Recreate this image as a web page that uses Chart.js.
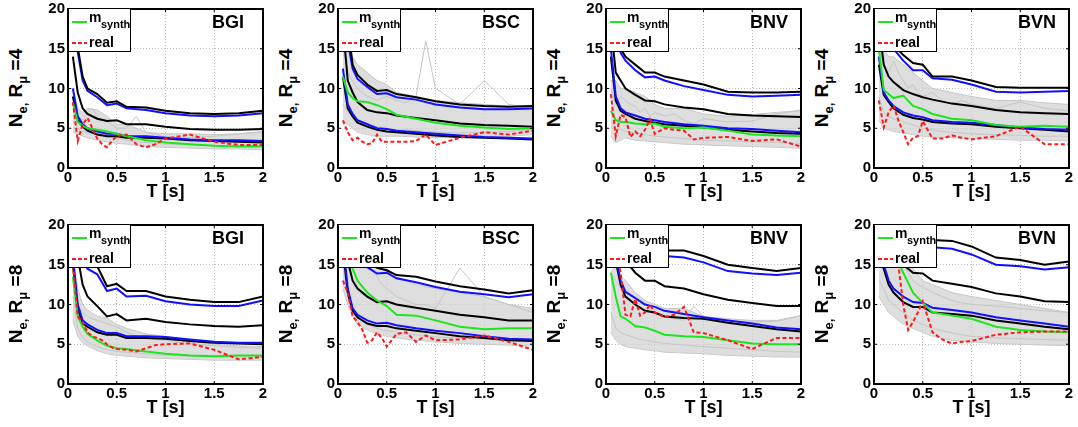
<!DOCTYPE html>
<html>
<head>
<meta charset="utf-8">
<script src="https://cdn.jsdelivr.net/npm/chart.js@4.4.1/dist/chart.umd.min.js"></script>
<style>
  body { margin: 0; background: #fff; }
  #fig { position: relative; width: 1078px; height: 427px; overflow: hidden; background: #fff;
         font-family: "Liberation Sans", Arial, sans-serif; font-weight: bold; color: #000; }
  canvas { position: absolute; }
  .ylab { position: absolute; width: 140px; height: 24px; line-height: 24px; font-size: 19px;
          text-align: center; white-space: nowrap; transform: rotate(-90deg); }
  .ylab sub { font-size: 13px; line-height: 0; vertical-align: -5px; }
  .xlab { position: absolute; width: 195px; height: 18px; line-height: 18px; font-size: 18px; text-align: center; }
  .station { position: absolute; font-size: 18px; line-height: 18px; }
  .legend { position: absolute; width: 61px; height: 42px; border: 1.5px solid #000; background: #fff; }
  .legend .swatch { position: absolute; left: 3px; width: 15px; height: 2px; }
  .legend .txt { position: absolute; left: 20px; font-size: 14px; line-height: 14px; white-space: nowrap; }
  .legend .sub { position: absolute; left: 32px; font-size: 11px; line-height: 11px; }
</style>
</head>
<body>
<div id="fig"></div>
<script>
// Periods (s)
const T = [0.05, 0.1, 0.15, 0.2, 0.3, 0.4, 0.5, 0.6, 0.8, 1.0, 1.25, 1.5, 1.75, 2.0];
const T_FINE = [0.05, 0.1, 0.15, 0.2, 0.25, 0.3, 0.35, 0.4, 0.45, 0.5, 0.6, 0.7, 0.8, 0.9, 1.0, 1.25, 1.5, 1.75, 2.0];

const X_TICKS = [0, 0.5, 1, 1.5, 2];
const Y_TICKS = [0, 5, 10, 15, 20];

// ---- BGI, R=4 ----
const bgi4UpperBlack = [24, 15.2, 11.5, 10.0, 9.3, 8.2, 8.4, 7.7, 7.6, 7.2, 6.9, 6.8, 6.9, 7.2];
const bgi4UpperBlue = [23, 14.6, 11.0, 9.7, 8.9, 7.9, 8.1, 7.5, 7.3, 6.9, 6.6, 6.5, 6.6, 6.9];
const bgi4Median = [14, 9.5, 7.5, 6.8, 6.2, 5.9, 6.0, 5.5, 5.5, 5.2, 4.9, 4.8, 4.8, 4.9];
const bgi4LowerBlue = [10, 6.5, 5.5, 5.0, 4.6, 4.3, 4.3, 4.0, 4.0, 3.8, 3.6, 3.5, 3.5, 3.4];
const bgi4LowerBlack = [9, 6.0, 5.2, 4.7, 4.2, 4.0, 4.0, 3.8, 3.8, 3.7, 3.5, 3.4, 3.3, 3.2];
const bgi4Synth = [8.2, 5.8, 5.3, 5.0, 4.8, 4.6, 4.3, 4.0, 3.5, 3.2, 3.0, 2.8, 2.7, 2.7];
const bgi4Real = [8.3, 3.4, 5.5, 6.3, 5.0, 3.7, 3.0, 2.6, 3.4, 4.0, 4.2, 3.0, 2.6, 3.0, 3.7, 4.2, 3.3, 2.9, 2.9];
const bgi4EnvLo = [4.5, 4.3, 4.0, 3.8, 3.5, 3.3, 3.1, 3.0, 2.7, 2.6, 2.5, 2.4, 2.4, 2.3];
const bgi4EnvHi = [10, 7.5, 7.0, 7.5, 7.3, 6.5, 5.5, 5.5, 4.5, 4.3, 4.3, 4.2, 4.3, 4.5];
const bgi4GrayA = [6, 5, 4.6, 4.4, 4.3, 4.2, 4.1, 4.0, 3.8, 3.7, 3.5, 3.3, 3.2, 3.1, 3.0, 2.9, 2.8, 2.8, 2.8];
const bgi4GrayB = [9, 6.5, 6, 7, 7.5, 6.5, 6, 5.8, 5.4, 5.0, 5.0, 6.5, 4.5, 4.2, 3.9, 3.8, 4.0, 4.3, 4.6];

// ---- BSC, R=4 ----
const bsc4UpperBlack = [24, 18, 13, 11.7, 10.5, 9.7, 9.8, 9.3, 8.9, 8.4, 8.0, 7.8, 7.7, 7.8];
const bsc4UpperBlue = [21, 16, 12.5, 11.2, 10.2, 9.3, 9.4, 8.9, 8.6, 8.0, 7.6, 7.4, 7.4, 7.5];
const bsc4Median = [18, 11, 9.5, 8.3, 7.3, 7.0, 6.9, 6.6, 6.3, 6.0, 5.6, 5.4, 5.3, 5.2];
const bsc4LowerBlue = [12.5, 8.0, 6.8, 6.0, 5.5, 5.0, 4.9, 4.7, 4.5, 4.3, 4.1, 3.9, 3.8, 3.7];
const bsc4LowerBlack = [11.5, 7.5, 6.5, 5.7, 5.2, 4.8, 4.6, 4.5, 4.3, 4.1, 3.9, 3.8, 3.7, 3.6];
const bsc4Synth = [11.5, 9.5, 8.8, 8.4, 8.3, 7.9, 7.4, 6.7, 6.2, 5.7, 5.3, 5.1, 4.9, 5.0];
const bsc4Real = [6.0, 4.5, 3.5, 3.8, 3.3, 3.0, 3.1, 4.2, 3.3, 3.3, 3.3, 3.3, 3.4, 4.2, 2.9, 3.8, 4.5, 4.2, 4.7];
const bsc4EnvLo = [6, 5.5, 5.0, 4.5, 4.2, 4.0, 4.0, 4.0, 3.9, 3.8, 3.9, 4.0, 4.0, 4.2];
const bsc4EnvHi = [18, 15, 14, 13, 12, 11, 10.5, 9.5, 9, 8.5, 8.2, 8.0, 7.8, 7.8];
const bsc4GrayA = [8, 7, 6.5, 6, 5.8, 5.5, 5.3, 5.2, 5.1, 5.0, 4.8, 4.8, 4.7, 4.6, 4.5, 4.4, 4.5, 4.6, 4.8];
const bsc4GrayB = [15, 12, 11, 10, 9.5, 9, 8.8, 8.5, 8.8, 9, 8.5, 8.2, 9, 16, 10, 8, 11, 8, 7.5];

// ---- BNV, R=4 ----
const bnv4UpperBlack = [26, 17, 15, 14, 13, 12, 12, 11.5, 11.0, 10.5, 9.6, 9.5, 9.5, 9.6];
const bnv4UpperBlue = [25, 16.5, 14.5, 13.5, 12.3, 11.4, 11.5, 11.0, 10.3, 9.8, 9.2, 9.0, 9.1, 9.2];
const bnv4Median = [18, 12, 11.0, 10.0, 9.2, 8.5, 8.4, 8.0, 7.6, 7.4, 6.8, 6.6, 6.5, 6.4];
const bnv4LowerBlue = [15, 9.0, 7.5, 7.0, 6.6, 6.2, 6.0, 5.8, 5.5, 5.3, 5.0, 4.9, 4.7, 4.5];
const bnv4LowerBlack = [14, 8.5, 7.2, 6.8, 6.2, 5.9, 5.7, 5.5, 5.3, 5.1, 4.8, 4.6, 4.4, 4.3];
const bnv4Synth = [7.2, 6.0, 5.8, 5.8, 5.6, 5.5, 5.6, 5.2, 5.0, 5.1, 4.7, 4.2, 4.1, 4.0];
const bnv4Real = [9.3, 4.0, 6.7, 6.4, 3.9, 4.6, 4.0, 4.8, 6.1, 4.3, 5.0, 4.8, 4.7, 3.6, 3.8, 3.9, 3.4, 3.6, 2.7];
const bnv4EnvLo = [4, 3.2, 3.5, 3.8, 3.5, 3.4, 3.3, 3.2, 3.0, 2.9, 2.8, 2.7, 2.6, 2.5];
const bnv4EnvHi = [11, 11, 10, 10, 9.5, 9.0, 8.0, 7.5, 7.5, 6.8, 6.5, 6.7, 7.0, 7.2];
const bnv4GrayA = [6, 5, 4.8, 4.6, 4.5, 4.4, 4.3, 4.2, 4.1, 4.0, 3.9, 3.8, 3.7, 3.6, 3.5, 3.4, 3.3, 3.2, 3.1];
const bnv4GrayB = [10, 8, 9, 8.5, 8, 7.8, 7, 7.5, 6.5, 7, 6.5, 6.8, 6, 5.6, 6.2, 5.8, 5.9, 6.8, 7.3];

// ---- BVN, R=4 ----
const bvn4UpperBlack = [26, 18, 16.5, 15.5, 14.2, 13.2, 13.0, 11.5, 11.5, 11.0, 10.2, 10.1, 10.1, 10.1];
const bvn4UpperBlue = [25, 17.5, 16, 15, 13.5, 12.3, 12.3, 11.3, 11.1, 10.5, 9.6, 9.5, 9.6, 9.7];
const bvn4Median = [18, 13, 11.5, 10.8, 9.8, 9.3, 8.9, 8.6, 8.1, 7.8, 7.3, 7.0, 6.9, 6.8];
const bvn4LowerBlue = [14, 9.5, 8.5, 7.8, 7.0, 6.6, 6.4, 6.0, 5.8, 5.7, 5.4, 5.1, 4.9, 4.8];
const bvn4LowerBlack = [13, 9.2, 8.3, 7.5, 6.7, 6.3, 6.1, 5.8, 5.6, 5.5, 5.2, 5.0, 4.8, 4.6];
const bvn4Synth = [15, 9.8, 9.3, 8.8, 9.1, 7.8, 7.4, 6.8, 6.2, 6.0, 5.4, 5.2, 5.3, 5.2];
const bvn4Real = [8.5, 5.1, 7.0, 7.9, 6.0, 4.5, 3.0, 3.8, 4.0, 5.9, 3.7, 3.7, 4.1, 3.8, 3.6, 4.0, 5.2, 3.0, 3.0];
const bvn4EnvLo = [6, 5, 4.8, 4.6, 4.4, 4.2, 4.0, 3.9, 3.8, 3.7, 3.6, 3.5, 3.5, 3.4];
const bvn4EnvHi = [16, 15, 14, 14, 13, 12, 11, 10, 9.5, 9, 8.5, 8.5, 8.2, 8.0];
const bvn4GrayA = [9, 7, 6.5, 6.2, 6, 5.8, 5.6, 5.4, 5.2, 5.0, 4.8, 4.6, 4.5, 4.4, 4.3, 4.2, 4.1, 4.0, 4.0];
const bvn4GrayB = [15, 13, 12, 13.5, 12, 11, 10, 10.5, 9.5, 9, 9.5, 8.5, 8, 8.5, 8, 7.5, 8.3, 7.5, 7.2];

// ---- BGI, R=8 ----
const bgi8UpperBlack = [28, 19, 17, 15.5, 14.8, 12.3, 12.6, 11.7, 11.7, 11.0, 10.6, 10.3, 10.3, 11.0];
const bgi8UpperBlue = [24, 17, 16, 14.5, 13.8, 11.7, 12.0, 11.0, 11.1, 10.4, 10.0, 9.8, 9.8, 10.5];
const bgi8Median = [19, 16, 12.5, 11, 9.8, 8.5, 8.8, 8.0, 8.2, 7.8, 7.5, 7.3, 7.2, 7.4];
const bgi8LowerBlue = [16, 10, 8, 7.5, 6.8, 6.4, 6.4, 6.0, 6.0, 5.9, 5.6, 5.3, 5.2, 5.2];
const bgi8LowerBlack = [15, 9.5, 7.6, 7.2, 6.5, 6.2, 6.2, 5.8, 5.8, 5.7, 5.4, 5.2, 5.1, 5.0];
const bgi8Synth = [13.5, 8.5, 7.2, 6.3, 5.5, 4.8, 4.5, 4.4, 4.1, 3.8, 3.6, 3.5, 3.6, 3.6];
const bgi8Real = [15, 8.5, 7.8, 6.5, 6.0, 5.8, 5.5, 5.0, 4.6, 4.4, 4.3, 4.1, 4.5, 4.9, 5.0, 5.1, 4.3, 3.1, 3.4];
const bgi8EnvLo = [8, 6, 5.2, 4.8, 4.2, 3.8, 3.6, 3.5, 3.3, 3.2, 3.1, 3.0, 3.0, 3.0];
const bgi8EnvHi = [16, 12, 10, 9.3, 8.5, 8.3, 7.5, 7.0, 6.3, 6.0, 5.5, 5.0, 4.8, 4.7];
const bgi8GrayA = [11, 7, 5.8, 5.3, 5.0, 4.7, 4.5, 4.3, 4.2, 4.1, 4.0, 3.9, 3.8, 3.7, 3.6, 3.5, 3.4, 3.4, 3.4];
const bgi8GrayB = [15, 10, 9, 8.5, 8.2, 8, 7.8, 7.6, 7.4, 7.2, 6.5, 6.0, 5.8, 5.6, 5.5, 5.1, 4.8, 4.6, 4.5];

// ---- BSC, R=8 ----
const bsc8UpperBlack = [30, 24, 19, 17, 15.5, 14.6, 14.3, 13.7, 13.5, 12.9, 12.3, 11.9, 11.4, 11.8];
const bsc8UpperBlue = [28, 19, 17, 16, 14.7, 13.9, 14.0, 13.3, 12.8, 12.2, 11.6, 11.3, 10.9, 11.3];
const bsc8Median = [19, 15.5, 13, 12, 11.0, 10.3, 10.4, 10.0, 9.6, 9.2, 8.7, 8.4, 8.0, 8.0];
const bsc8LowerBlue = [18, 12, 9.5, 8.7, 8.0, 7.6, 7.7, 7.4, 7.0, 6.7, 6.4, 6.0, 5.7, 5.6];
const bsc8LowerBlack = [17, 11.5, 9.2, 8.4, 7.6, 7.3, 7.3, 7.0, 6.7, 6.4, 6.0, 5.8, 5.5, 5.4];
const bsc8Synth = [20, 17, 14.5, 13, 11.5, 10.5, 9.8, 8.7, 8.6, 8.0, 7.2, 6.9, 7.0, 7.0];
const bsc8Real = [13, 11.5, 8.5, 7.8, 6.8, 5.2, 5.5, 6.5, 5.8, 4.7, 6.3, 6.5, 5.3, 6.1, 5.5, 5.6, 6.1, 5.3, 4.3];
const bsc8EnvLo = [12, 10, 8.5, 7.5, 6.8, 6.3, 6.0, 5.8, 5.5, 5.3, 5.1, 5.0, 4.9, 4.8];
const bsc8EnvHi = [20, 19, 18.5, 18, 17, 15.5, 14.5, 13.5, 12.5, 12, 11.5, 11, 10, 9.5];
const bsc8GrayA = [15, 11, 9.5, 8.5, 8, 7.5, 7.2, 7, 6.8, 6.7, 6.5, 6.3, 6.2, 6.0, 5.9, 5.8, 5.7, 5.6, 5.5];
const bsc8GrayB = [20, 18, 17, 16.5, 16, 15.5, 14.5, 13.5, 12.5, 12, 11, 10.5, 10, 10, 9.5, 14.6, 11, 10, 9];

// ---- BNV, R=8 ----
const bnv8UpperBlack = [34, 26, 21, 18.5, 17.5, 17.0, 17.0, 16.8, 16.8, 16.1, 15.0, 14.6, 14.2, 14.6];
const bnv8UpperBlue = [32, 25, 21, 19, 17, 16.3, 16.0, 16.1, 15.9, 15.3, 14.2, 13.9, 13.7, 14.0];
const bnv8Median = [22, 19, 17.5, 15.5, 14.0, 13.0, 13.0, 12.3, 12.0, 11.3, 10.6, 10.2, 9.8, 9.8];
const bnv8LowerBlue = [20, 16, 13, 11.6, 10.8, 10, 9.7, 9.2, 8.8, 8.4, 8.0, 7.6, 7.1, 6.9];
const bnv8LowerBlack = [20, 15.5, 12.5, 11, 10.0, 9.2, 9.0, 8.5, 8.3, 8.2, 7.7, 7.3, 6.9, 6.6];
const bnv8Synth = [14, 11, 8.5, 8.2, 7.3, 7.1, 6.7, 6.2, 6.0, 5.9, 5.5, 5.1, 5.0, 5.0];
const bnv8Real = [21, 17, 14, 8.7, 8.5, 10.7, 8.6, 9.0, 10.0, 9.0, 8.4, 8.7, 9.7, 6.5, 6.4, 5.5, 4.4, 5.8, 5.8];
const bnv8EnvLo = [6.5, 5.5, 5.0, 4.7, 4.5, 4.3, 4.2, 4.0, 3.9, 3.8, 3.6, 3.5, 3.4, 3.4];
const bnv8EnvHi = [14, 15, 13.5, 13.0, 11.5, 10.5, 10, 9.5, 9.5, 8.5, 8.2, 8.0, 8.0, 8.6];
const bnv8GrayA = [9, 7, 6.5, 6.2, 6, 5.8, 5.6, 5.5, 5.4, 5.3, 5.1, 5.0, 4.9, 4.8, 4.7, 4.5, 4.3, 4.1, 4.0];
const bnv8GrayB = [14, 13, 12, 11, 10.5, 10, 9.5, 9.2, 9, 8.8, 8.5, 8.2, 8, 9.8, 8.5, 8, 7.8, 7.9, 8.6];

// ---- BVN, R=8 ----
const bvn8UpperBlack = [34, 27, 24, 22, 20, 18.4, 18.2, 18.1, 18.0, 17.3, 15.9, 15.6, 15.0, 15.4];
const bvn8UpperBlue = [32, 26, 23, 21, 19.5, 17.8, 17.3, 17.2, 17.0, 16.3, 15.0, 14.8, 14.4, 14.7];
const bvn8Median = [22, 20, 18, 16.5, 15.0, 14.0, 13.9, 13.0, 12.6, 12.2, 11.4, 11.0, 10.4, 10.3];
const bvn8LowerBlue = [17, 15, 13, 12.0, 11.0, 10.3, 10.2, 9.6, 9.3, 9.0, 8.4, 8.0, 7.6, 7.2];
const bvn8LowerBlack = [16.5, 14.5, 12.5, 11.5, 10.3, 9.7, 9.7, 9.0, 8.8, 8.6, 8.0, 7.6, 7.2, 6.9];
const bvn8Synth = [20, 19, 17.5, 16.5, 14, 11.5, 10.2, 9.0, 8.6, 8.2, 7.2, 6.8, 6.6, 6.5];
const bvn8Real = [21, 21, 21, 20.5, 15, 10, 6.8, 7.8, 9.0, 10.4, 6.5, 5.6, 5.1, 5.3, 5.4, 6.2, 6.5, 6.6, 6.6];
const bvn8EnvLo = [11, 10, 9, 8.5, 7.5, 7, 6.5, 6.0, 5.5, 5.3, 5.1, 5.0, 4.9, 4.8];
const bvn8EnvHi = [20, 20, 19, 17, 16, 14.5, 13, 12.5, 11.5, 11, 10.5, 10, 9.5, 9.0];
const bvn8GrayA = [13, 12, 10.5, 10, 9.5, 9, 8.5, 8, 7.8, 7.5, 7.0, 6.7, 6.4, 6.2, 6.0, 5.8, 5.7, 5.6, 5.5];
const bvn8GrayB = [20, 19, 18, 16.5, 15.5, 15, 14, 13, 12.5, 12.2, 11.5, 11, 10.5, 10.2, 10, 9.8, 9.5, 9.2, 9.0];

const STATIONS = ["BGI", "BSC", "BNV", "BVN"];
const DUCTILITY = [4, 8];

const PANELS = [
  [bgi4UpperBlack, bgi4UpperBlue, bgi4Median, bgi4LowerBlue, bgi4LowerBlack, bgi4Synth, bgi4Real, bgi4EnvLo, bgi4EnvHi, bgi4GrayA, bgi4GrayB],
  [bsc4UpperBlack, bsc4UpperBlue, bsc4Median, bsc4LowerBlue, bsc4LowerBlack, bsc4Synth, bsc4Real, bsc4EnvLo, bsc4EnvHi, bsc4GrayA, bsc4GrayB],
  [bnv4UpperBlack, bnv4UpperBlue, bnv4Median, bnv4LowerBlue, bnv4LowerBlack, bnv4Synth, bnv4Real, bnv4EnvLo, bnv4EnvHi, bnv4GrayA, bnv4GrayB],
  [bvn4UpperBlack, bvn4UpperBlue, bvn4Median, bvn4LowerBlue, bvn4LowerBlack, bvn4Synth, bvn4Real, bvn4EnvLo, bvn4EnvHi, bvn4GrayA, bvn4GrayB],
  [bgi8UpperBlack, bgi8UpperBlue, bgi8Median, bgi8LowerBlue, bgi8LowerBlack, bgi8Synth, bgi8Real, bgi8EnvLo, bgi8EnvHi, bgi8GrayA, bgi8GrayB],
  [bsc8UpperBlack, bsc8UpperBlue, bsc8Median, bsc8LowerBlue, bsc8LowerBlack, bsc8Synth, bsc8Real, bsc8EnvLo, bsc8EnvHi, bsc8GrayA, bsc8GrayB],
  [bnv8UpperBlack, bnv8UpperBlue, bnv8Median, bnv8LowerBlue, bnv8LowerBlack, bnv8Synth, bnv8Real, bnv8EnvLo, bnv8EnvHi, bnv8GrayA, bnv8GrayB],
  [bvn8UpperBlack, bvn8UpperBlue, bvn8Median, bvn8LowerBlue, bvn8LowerBlack, bvn8Synth, bvn8Real, bvn8EnvLo, bvn8EnvHi, bvn8GrayA, bvn8GrayB],
];

// Layout (plot areas in page pixels)
const COL_LEFT = [68, 338, 606, 874];
const ROW_TOP = [7, 223];
const PLOT_W = 195;
const PLOT_H = 161;
const AXIS_W = 32;
const AXIS_H = 22;
const PAD_TOP = 10;
const PAD_RIGHT = 8;

const FONT = "'Liberation Sans', Arial, sans-serif";
const GRAY = "#c6c6c6";
const GREEN = "#1ee61e";
const RED = "#ff1a1a";

// box + inward ticks on all four sides, like MATLAB axes
const frameBox = {
  id: "frameBox",
  afterDraw(chart) {
    const { ctx, chartArea: a, scales } = chart;
    ctx.save();
    ctx.strokeStyle = "#000";
    ctx.lineWidth = 1;
    ctx.beginPath();
    X_TICKS.forEach((v) => {
      const px = scales.x.getPixelForValue(v);
      ctx.moveTo(px, a.bottom); ctx.lineTo(px, a.bottom - 3);
      ctx.moveTo(px, a.top); ctx.lineTo(px, a.top + 3);
    });
    Y_TICKS.forEach((v) => {
      const py = scales.y.getPixelForValue(v);
      ctx.moveTo(a.left, py); ctx.lineTo(a.left + 3, py);
      ctx.moveTo(a.right, py); ctx.lineTo(a.right - 3, py);
    });
    ctx.stroke();
    ctx.lineWidth = 2;
    ctx.strokeRect(a.left, a.top, a.right - a.left, a.bottom - a.top);
    ctx.restore();
  },
};

function series(xs, ys, color, width, extra) {
  return Object.assign({
    data: xs.map((x, i) => ({ x: x, y: ys[i] })),
    borderColor: color,
    borderWidth: width,
    pointRadius: 0,
    fill: false,
    tension: 0,
    clip: 0,
  }, extra || {});
}

function buildPanel(index) {
  const fig = document.getElementById("fig");
  const col = index % 4;
  const row = Math.floor(index / 4);
  const left = COL_LEFT[col];
  const top = ROW_TOP[row];
  const [upBlack, upBlue, median, loBlue, loBlack, synth, real, envLo, envHi, grayA, grayB] = PANELS[index];

  const canvas = document.createElement("canvas");
  canvas.width = PLOT_W + AXIS_W + PAD_RIGHT;
  canvas.height = PLOT_H + PAD_TOP + AXIS_H;
  canvas.style.left = left - AXIS_W + "px";
  canvas.style.top = top - PAD_TOP + "px";
  fig.appendChild(canvas);

  // first dataset is drawn on top
  const datasets = [
    series(T_FINE, real, RED, 2, { borderDash: [4, 2.5] }),
    series(T, synth, GREEN, 2),
    series(T, upBlack, "#000", 2),
    series(T, upBlue, "#1010ff", 2),
    series(T, median, "#000", 2),
    series(T, loBlue, "#1010ff", 2),
    series(T, loBlack, "#000", 2),
    series(T_FINE, grayA, GRAY, 1),
    series(T_FINE, grayB, GRAY, 1),
    series(T, envHi, GRAY, 1, { fill: "+1", backgroundColor: "rgba(208,208,208,0.7)" }),
    series(T, envLo, GRAY, 1),
  ];

  const tickFont = { family: FONT, size: 15, weight: "bold" };

  new Chart(canvas, {
    type: "line",
    data: { datasets: datasets },
    options: {
      responsive: false,
      animation: false,
      events: [],
      layout: { padding: { top: PAD_TOP, right: PAD_RIGHT, left: 0, bottom: 0 } },
      plugins: { legend: { display: false }, tooltip: { enabled: false } },
      scales: {
        x: {
          type: "linear",
          min: 0,
          max: 2,
          afterBuildTicks: (s) => { s.ticks = X_TICKS.map((v) => ({ value: v })); },
          ticks: { color: "#000", font: tickFont, padding: 1, maxRotation: 0, callback: (v) => String(v) },
          grid: { color: "#bdbdbd", lineWidth: 1, drawTicks: false },
          border: { display: false, dash: [1, 2] },
          afterFit: (s) => { s.height = AXIS_H; },
        },
        y: {
          type: "linear",
          min: 0,
          max: 20,
          afterBuildTicks: (s) => { s.ticks = Y_TICKS.map((v) => ({ value: v })); },
          ticks: { color: "#000", font: tickFont, padding: 3 },
          grid: { color: "#bdbdbd", lineWidth: 1, drawTicks: false },
          border: { display: false, dash: [1, 2] },
          afterFit: (s) => { s.width = AXIS_W; },
        },
      },
    },
    plugins: [frameBox],
  });

  // y axis title
  const ylab = document.createElement("div");
  ylab.className = "ylab";
  ylab.innerHTML = "N<sub>e,</sub> R<sub>\u03bc</sub> =" + DUCTILITY[row];
  ylab.style.left = left - 52 - 70 + "px";
  ylab.style.top = top + 81 - 12 + "px";
  fig.appendChild(ylab);

  // x axis title
  const xlab = document.createElement("div");
  xlab.className = "xlab";
  xlab.textContent = "T [s]";
  xlab.style.left = left + "px";
  xlab.style.top = top + PLOT_H + 14 + "px";
  fig.appendChild(xlab);

  // station name
  const st = document.createElement("div");
  st.className = "station";
  st.textContent = STATIONS[col];
  st.style.left = left + 144 + "px";
  st.style.top = top + 6 + "px";
  fig.appendChild(st);

  // legend box
  const lg = document.createElement("div");
  lg.className = "legend";
  lg.style.left = left + "px";
  lg.style.top = top + 1 + "px";
  lg.innerHTML =
    '<div class="swatch" style="top:12px;background:' + GREEN + '"></div>' +
    '<div class="txt" style="top:1px">m</div>' +
    '<div class="sub" style="top:10px">synth</div>' +
    '<div class="swatch" style="top:33px;background:repeating-linear-gradient(90deg,' + RED + ' 0 4px,transparent 4px 6px)"></div>' +
    '<div class="txt" style="top:26px">real</div>';
  fig.appendChild(lg);
}

PANELS.forEach((_, i) => buildPanel(i));
</script>
</body>
</html>
